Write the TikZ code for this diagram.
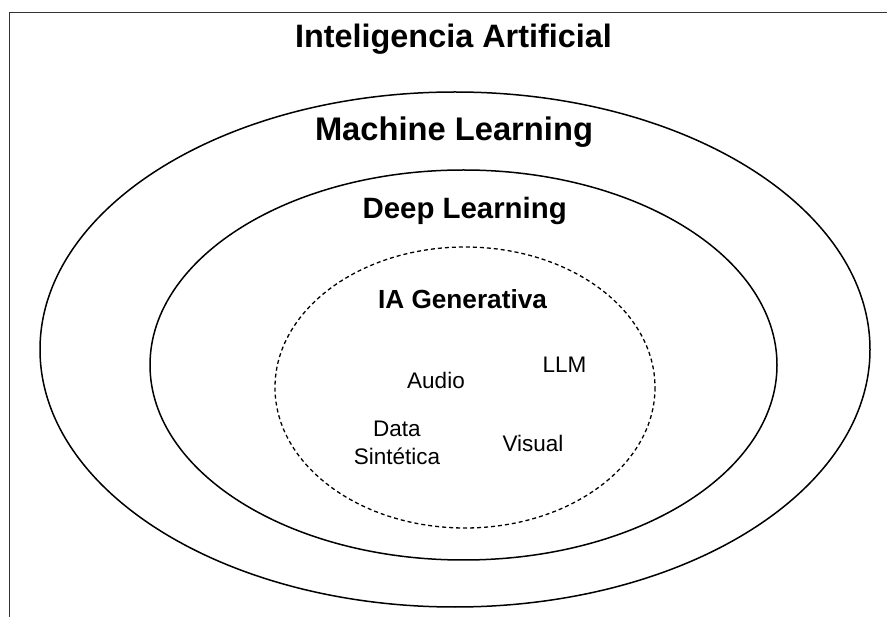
\documentclass[tikz,border=0pt]{standalone}
\usepackage{fontspec}
\setmainfont{Liberation Sans}
\begin{document}
\begin{tikzpicture}[x=1pt,y=-1pt,
  ring/.style={draw=black,line width=1.5pt},
  genring/.style={draw=black,line width=1.3pt,dash pattern=on 4pt off 3pt},
  title/.style={font=\bfseries\fontsize{#1}{#1}\selectfont,anchor=base,inner sep=0pt},
  item/.style={font=\fontsize{22.5}{28}\selectfont,anchor=base,inner sep=0pt,align=center}]
  \useasboundingbox (0,0) rectangle (887,617);
  % frame edges
  \draw[line width=1.1pt,draw=black!80] (9.5,617) -- (9.5,12.5) -- (887,12.5);
  % nested regions
  \draw[ring] (455,349.5) ellipse [x radius=415, y radius=257.5];
  \draw[ring] (463.5,365) ellipse [x radius=313.5, y radius=195];
  \draw[genring] (465,387.5) ellipse [x radius=190, y radius=140.5];
  % labels
  \node[title=32.4] (ia) at (453.5,48) {Inteligencia Artificial};
  \node[title=32.7] (ml) at (454,141) {Machine Learning};
  \node[title=29.4] (dl) at (464.7,218.3) {Deep Learning};
  \node[title=26.2] (gen) at (462.5,309) {IA Generativa};
  \node[item] (audio) at (436,389) {Audio};
  \node[item] (llm) at (564.5,373) {LLM};
  \node[item] (visual) at (533,452) {Visual};
  \node[item] (data) at (397,465) {Data\\Sintética};
\end{tikzpicture}
\end{document}
